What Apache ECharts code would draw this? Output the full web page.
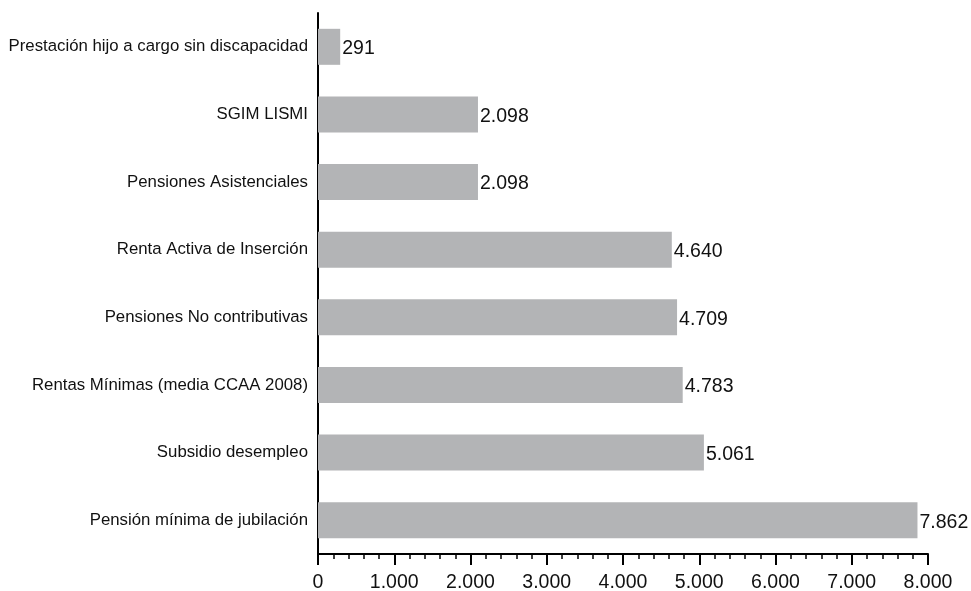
<!DOCTYPE html>
<html>
<head>
<meta charset="utf-8">
<script src="https://cdn.jsdelivr.net/npm/echarts@6/dist/echarts.min.js"></script>
<style>
html,body{margin:0;padding:0;background:#fff;}
#chart{width:971px;height:591px;}
</style>
</head>
<body>
<div id="chart"></div>
<script>
var categories = [
  "Prestación hijo a cargo sin discapacidad",
  "SGIM LISMI",
  "Pensiones Asistenciales",
  "Renta Activa de Inserción",
  "Pensiones No contributivas",
  "Rentas Mínimas (media CCAA 2008)",
  "Subsidio desempleo",
  "Pensión mínima de jubilación"
];
var values = [291, 2098, 2098, 4640, 4709, 4783, 5061, 7862];
var xTicks = { min: 0, max: 8000, interval: 1000 };

function fmt(v) {
  return String(Math.round(v)).replace(/\B(?=(\d{3})+(?!\d))/g, ".");
}

var chart = echarts.init(document.getElementById('chart'), null, { renderer: 'canvas' });
chart.setOption({
  animation: false,
  backgroundColor: '#ffffff',
  textStyle: { fontFamily: 'Liberation Sans, Arial, sans-serif' },
  grid: { left: 318, right: 43, top: 13, bottom: 37, containLabel: false, outerBoundsMode: 'none' },
  xAxis: {
    type: 'value',
    min: xTicks.min,
    max: xTicks.max,
    interval: xTicks.interval,
    splitLine: { show: false },
    axisLine: { show: true, lineStyle: { color: '#000', width: 2 } },
    axisTick: { show: true, length: 11, lineStyle: { color: '#000', width: 2 } },
    minorTick: { show: true, splitNumber: 5, length: 5, lineStyle: { color: '#000', width: 1.5 } },
    axisLabel: {
      margin: 19,
      fontSize: 19.5,
      color: '#111',
      fontFamily: 'Liberation Sans, Arial, sans-serif',
      formatter: function (v) { return fmt(v); }
    }
  },
  yAxis: {
    type: 'category',
    inverse: true,
    data: categories,
    axisLine: { show: true, lineStyle: { color: '#000', width: 2 } },
    axisTick: { show: false },
    axisLabel: {
      margin: 10,
      fontSize: 16.8,
      color: '#111',
      fontFamily: 'Liberation Sans, Arial, sans-serif'
    }
  },
  series: [{
    type: 'bar',
    data: values,
    barWidth: 36,
    itemStyle: { color: '#b3b4b6' },
    label: {
      show: true,
      position: 'right',
      distance: 2,
      offset: [0, 2],
      fontSize: 19.5,
      color: '#111',
      fontFamily: 'Liberation Sans, Arial, sans-serif',
      formatter: function (p) { return fmt(p.value); }
    }
  }]
});
</script>
</body>
</html>
